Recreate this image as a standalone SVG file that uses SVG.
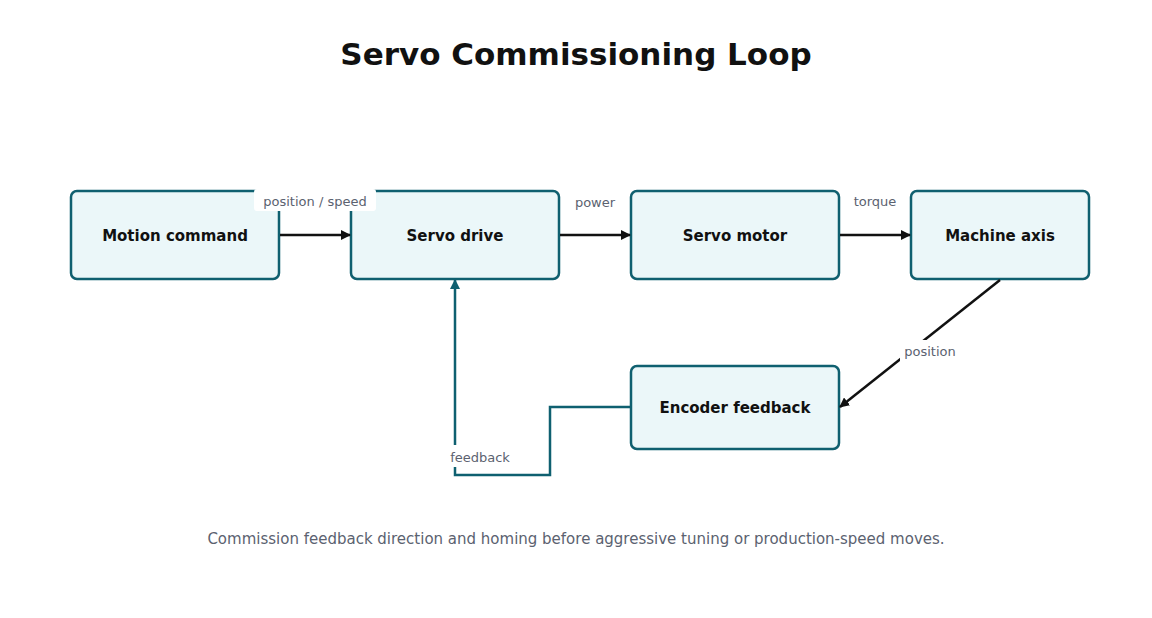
<svg xmlns="http://www.w3.org/2000/svg" width="1152" height="618" viewBox="0 0 1152 618">
<style>
.n{fill:#ebf7f9;stroke:#0f6070;stroke-width:2.5}
.t{font-family:"DejaVu Sans",sans-serif;font-weight:bold;font-size:15px;fill:#111;text-anchor:middle}
.l{font-family:"DejaVu Sans",sans-serif;font-size:13px;fill:#5b6270;text-anchor:middle}
.e{fill:none;stroke:#111;stroke-width:2.5}
.f{fill:none;stroke:#0f6070;stroke-width:2.5}
.bg{fill:#fff}
</style>
<defs>
<marker id="a" viewBox="0 0 10 10" refX="9" refY="5" markerWidth="4" markerHeight="4" orient="auto"><path d="M0,0L10,5L0,10z" fill="#111"/></marker>
<marker id="b" viewBox="0 0 10 10" refX="9" refY="5" markerWidth="4" markerHeight="4" orient="auto"><path d="M0,0L10,5L0,10z" fill="#0f6070"/></marker>
</defs>
<rect width="1152" height="618" fill="#fff"/>
<text x="576" y="65" font-family="DejaVu Sans,sans-serif" font-weight="bold" font-size="31" fill="#111" text-anchor="middle">Servo Commissioning Loop</text>
<g id="nodes">
<g id="motion"><rect class="n" x="71" y="191" width="208" height="88" rx="6"/><text class="t" x="175" y="241">Motion command</text></g>
<g id="drive"><rect class="n" x="351" y="191" width="208" height="88" rx="6"/><text class="t" x="455" y="241">Servo drive</text></g>
<g id="motor"><rect class="n" x="631" y="191" width="208" height="88" rx="6"/><text class="t" x="735" y="241">Servo motor</text></g>
<g id="axis"><rect class="n" x="911" y="191" width="178" height="88" rx="6"/><text class="t" x="1000" y="241">Machine axis</text></g>
<g id="encoder"><rect class="n" x="631" y="366" width="208" height="83" rx="6"/><text class="t" x="735" y="413">Encoder feedback</text></g>
</g>
<g id="connectors">
<path class="e" d="M280,235H350" marker-end="url(#a)"/>
<path class="e" d="M560,235H630" marker-end="url(#a)"/>
<path class="e" d="M840,235H910" marker-end="url(#a)"/>
<path class="e" d="M1000,280L840,407" marker-end="url(#a)"/>
<path class="f" d="M630,407H550V475H455V280" marker-end="url(#b)"/>
<rect class="bg" x="254" y="189" width="122" height="22" rx="3"/>
<text class="l" x="315" y="206">position / speed</text>
<text class="l" x="595" y="207">power</text>
<text class="l" x="875" y="206">torque</text>
<rect class="bg" x="900" y="340" width="60" height="22"/>
<text class="l" x="930" y="356">position</text>
<rect class="bg" x="445" y="445" width="70" height="22"/>
<text class="l" x="480" y="462">feedback</text>
</g>
<text x="576" y="544" font-family="DejaVu Sans,sans-serif" font-size="15" fill="#5b6270" text-anchor="middle">Commission feedback direction and homing before aggressive tuning or production-speed moves.</text>
</svg>
